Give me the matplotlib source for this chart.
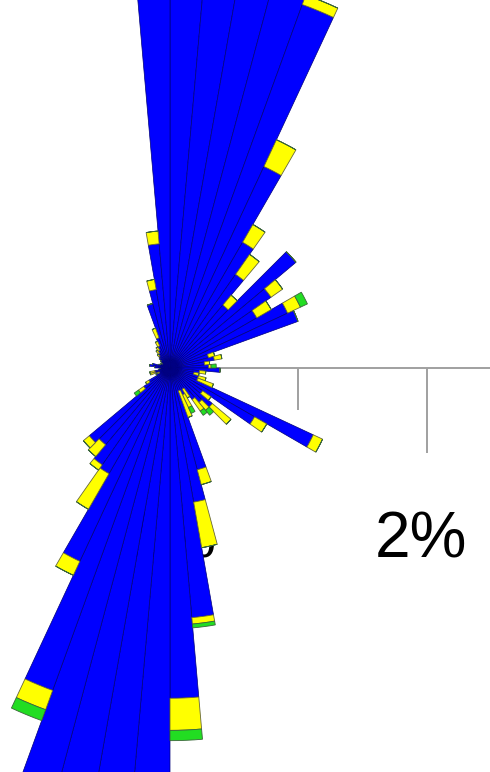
import numpy as np
import matplotlib
matplotlib.use("Agg")
import matplotlib.pyplot as plt

plt.rcParams['font.family'] = ['Liberation Sans', 'DejaVu Sans']

# 72 direction sectors (5 degrees each), values in percent of time
sector_start = list(range(0, 360, 5))
blue = [3.70, 3.65, 3.55, 3.45, 3.01, 1.73, 1.13, 0.89, 0.64, 1.28,
        0.96, 0.78, 1.01, 1.06, 0.31, 0.35, 0.27, 0.30, 0.39, 0.23,
        0.19, 0.23, 0.23, 1.23, 0.76, 0.31, 0.43, 0.35, 0.30, 0.19,
        0.23, 0.19, 0.82, 1.06, 1.95, 2.57, 3.70, 3.60, 3.50, 3.40,
        2.67, 1.66, 0.95, 0.92, 0.78, 0.82, 0.25, 0.19, 0.12, 0.09,
        0.12, 0.12, 0.09, 0.08, 0.12, 0.16, 0.14, 0.09, 0.08, 0.07,
        0.08, 0.09, 0.11, 0.12, 0.14, 0.16, 0.19, 0.25, 0.52, 0.62,
        0.97, 3.60]
yellow = [0, 0, 0, 0, 0.08, 0.23, 0.16, 0.19, 0.10, 0,
          0.11, 0.13, 0.11, 0, 0.05, 0.06, 0.04, 0.02, 0, 0.05,
          0.04, 0.06, 0.13, 0.08, 0.11, 0.08, 0.19, 0.08, 0.11, 0.08,
          0.11, 0.22, 0.12, 0.36, 0.05, 0.25, 0, 0, 0, 0,
          0.16, 0.12, 0.32, 0.05, 0.12, 0.06, 0.05, 0.03, 0, 0.02,
          0.04, 0.04, 0, 0, 0, 0, 0, 0, 0, 0,
          0, 0, 0, 0.02, 0.03, 0.03, 0.04, 0.08, 0, 0.08,
          0.10, 0]
green = [0, 0, 0, 0, 0, 0, 0, 0, 0, 0,
         0, 0, 0.06, 0, 0, 0, 0, 0.04, 0, 0,
         0, 0, 0, 0, 0, 0, 0, 0.05, 0.04, 0,
         0.05, 0, 0, 0, 0.03, 0.08, 0, 0, 0, 0,
         0.09, 0, 0, 0, 0, 0, 0.04, 0, 0, 0,
         0, 0, 0, 0, 0, 0, 0, 0, 0, 0,
         0, 0, 0, 0, 0, 0, 0, 0, 0, 0,
         0, 0]
ring_values = [1, 2]
ring_labels = ["1%", "2%"]

W, H = 490, 772
cx, cy = 170, 368          # centre of rose in pixels (from top)
scale = 128.5              # pixels per percent
R = 4.0
rad_px = R * scale

fig = plt.figure(figsize=(W / 100, H / 100), dpi=100)
rect = [(cx - rad_px) / W, (H - cy - rad_px) / H, 2 * rad_px / W, 2 * rad_px / H]

# Cartesian overlay (underneath) for axis line, ticks and labels
axc = fig.add_axes(rect)
axc.set_xlim(-R, R)
axc.set_ylim(-R, R)
axc.set_axis_off()
axc.plot([0, R], [0, 0], color='#a0a0a0', lw=1.4, solid_capstyle='butt')
tick_len = [42 / scale, 85 / scale]
for v, tl in zip(ring_values, tick_len):
    axc.plot([v, v], [0, -tl], color='#a0a0a0', lw=1.4, solid_capstyle='butt')
axc.text((216 - cx) / scale, -(541 - cy) / scale, ring_labels[0],
         fontsize=46, ha='right', va='center', color='black')
axc.text((421 - cx) / scale, -(541 - cy) / scale, ring_labels[1],
         fontsize=46, ha='center', va='center', color='black')

# Polar wind rose on top
ax = fig.add_axes(rect, projection='polar')
ax.set_theta_zero_location('N')
ax.set_theta_direction(-1)
ax.set_ylim(0, R)
ax.set_axis_off()

theta = np.deg2rad(np.array(sector_start) + 2.5)
width = np.deg2rad(5)
b = np.array(blue)
y = np.array(yellow)
g = np.array(green)
ax.bar(theta, b, width=width, bottom=0, color='#0000ff', edgecolor='#00007a', linewidth=0.5)
ax.bar(theta, y, width=width, bottom=b, color='#ffff00', edgecolor='#66663a', linewidth=0.6)
ax.bar(theta, g, width=width, bottom=b + y, color='#22dd22', edgecolor='#3a663a', linewidth=0.6)

fig.savefig('out.png', dpi=100)
